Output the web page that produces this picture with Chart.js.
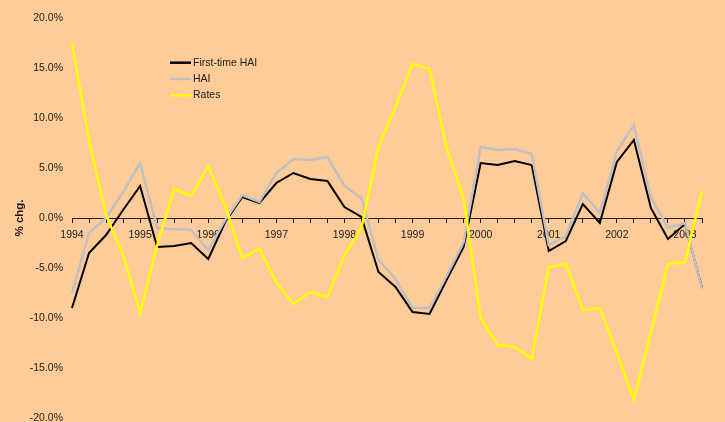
<!DOCTYPE html>
<html>
<head>
<meta charset="utf-8">
<script src="https://cdn.jsdelivr.net/npm/chart.js@4/dist/chart.umd.min.js"></script>
<style>
html, body { margin: 0; padding: 0; background: #FFCC99; }
#wrap { width: 725px; height: 422px; position: relative; }
</style>
</head>
<body>
<div id="wrap"><canvas id="haiChart"></canvas></div>
<script>
// quarterly % change, 1994 Q1 - 2003 Q2
const quarters = [
  '1994Q1', '1994Q2', '1994Q3', '1994Q4', '1995Q1', '1995Q2', '1995Q3', '1995Q4',
  '1996Q1', '1996Q2', '1996Q3', '1996Q4', '1997Q1', '1997Q2', '1997Q3', '1997Q4',
  '1998Q1', '1998Q2', '1998Q3', '1998Q4', '1999Q1', '1999Q2', '1999Q3', '1999Q4',
  '2000Q1', '2000Q2', '2000Q3', '2000Q4', '2001Q1', '2001Q2', '2001Q3', '2001Q4',
  '2002Q1', '2002Q2', '2002Q3', '2002Q4', '2003Q1', '2003Q2'
];
const firstTimeHai = [
  -9.0, -3.5, -1.7, 0.8, 3.2, -2.9, -2.8, -2.5,
  -4.1, -0.4, 2.1, 1.5, 3.5, 4.5, 3.9, 3.7,
  1.1, 0.1, -5.4, -6.9, -9.4, -9.6, -6.2, -2.9,
  5.5, 5.3, 5.7, 5.3, -3.3, -2.3, 1.4, -0.5,
  5.6, 7.8, 1.0, -2.1, -0.6, -7.0
];
const hai = [
  -7.5, -1.5, 0.0, 2.6, 5.5, -1.0, -1.1, -1.2,
  -3.2, -0.2, 2.3, 1.6, 4.5, 5.9, 5.8, 6.1,
  3.2, 2.0, -4.2, -6.1, -9.0, -9.0, -5.8, -2.4,
  7.1, 6.8, 6.9, 6.4, -2.7, -1.8, 2.5, 0.5,
  6.7, 9.3, 2.1, -1.0, -0.5, -7.1
];
const rates = [
  17.5, 7.8, 0.3, -3.7, -9.5, -2.7, 2.9, 2.2,
  5.2, 1.2, -4.0, -3.1, -6.4, -8.6, -7.4, -7.9,
  -3.7, -1.0, 7.1, 11.1, 15.4, 14.9, 7.0, 2.0,
  -10.0, -12.7, -12.9, -14.1, -4.9, -4.6, -9.2, -9.0,
  -13.5, -18.2, -11.4, -4.6, -4.4, 2.7
];
const yMin = -20, yMax = 20, yStep = 5;

const txtColor = '#1a1a1a';
const fontFam = "'Liberation Sans', Arial, sans-serif";
Chart.defaults.font.family = fontFam;
Chart.defaults.font.size = 10.5;
Chart.defaults.color = txtColor;

// legend drawn inside the plot, like the excel one
const insideLegend = {
  id: 'insideLegend',
  afterDatasetsDraw(chart) {
    const ctx = chart.ctx;
    const a = chart.chartArea;
    const x = a.left + 98;
    const y0 = a.top + 44.7;
    chart.data.datasets.forEach((ds, i) => {
      const y = y0 + i * 16.3;
      ctx.save();
      ctx.strokeStyle = ds.borderColor;
      ctx.lineWidth = 2.5;
      ctx.beginPath();
      ctx.moveTo(x, y);
      ctx.lineTo(x + 21, y);
      ctx.stroke();
      ctx.fillStyle = txtColor;
      ctx.font = '10.5px ' + fontFam;
      ctx.textBaseline = 'middle';
      ctx.fillText(ds.label, x + 23, y);
      ctx.restore();
    });
  }
};

const ctx = document.getElementById('haiChart').getContext('2d');
const haiChart = new Chart(ctx, {
  type: 'line',
  data: {
    labels: quarters,
    datasets: [{
      label: 'First-time HAI',
      data: firstTimeHai,
      borderColor: '#000000',
      borderWidth: 2,
      order: 2
    },
    {
      label: 'HAI',
      data: hai,
      borderColor: '#C0C0C0',
      borderWidth: 2.5,
      order: 1
    },
    {
      label: 'Rates',
      data: rates,
      borderColor: '#FFFF00',
      borderWidth: 2.5,
      order: 0
    }]
  },
  options: {
    responsive: true,
    maintainAspectRatio: false,
    animation: false,
    layout: { padding: { top: 18, right: 23, bottom: 4, left: 0 } },
    elements: {
      point: { radius: 0 },
      line: { tension: 0, fill: false }
    },
    plugins: {
      legend: { display: false },
      tooltip: { enabled: false }
    },
    scales: {
      x: {
        position: { y: 0 },
        grid: { drawOnChartArea: false, drawTicks: true, tickLength: 4, color: '#222' },
        border: { display: true, color: '#222', width: 1 },
        ticks: {
          autoSkip: false,
          maxRotation: 0,
          padding: 7,
          color: txtColor,
          callback: function (v, i) {
            return quarters[i].endsWith('Q1') ? quarters[i].slice(0, 4) : '';
          }
        },
        afterFit: function (s) { s.height = 0; }
      },
      y: {
        min: yMin,
        max: yMax,
        grid: { display: false, drawTicks: false },
        border: { display: false },
        ticks: {
          stepSize: yStep,
          padding: 9,
          color: txtColor,
          callback: function (v) { return v.toFixed(1) + '%'; }
        },
        title: {
          display: true,
          text: '% chg.',
          color: txtColor,
          font: { weight: 'bold', size: 11.5 },
          padding: { top: 13, bottom: 0 }
        },
        afterFit: function (s) { s.width = 72; s.paddingTop = 0; s.paddingBottom = 0; }
      }
    }
  },
  plugins: [insideLegend]
});
</script>
</body>
</html>
